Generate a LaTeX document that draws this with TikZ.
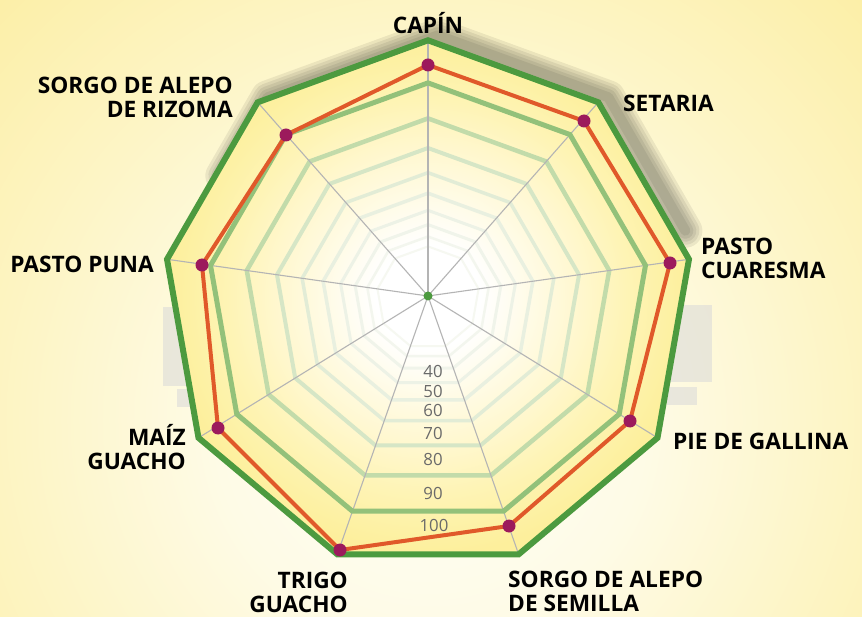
\documentclass[tikz,border=0pt]{standalone}
\usepackage{fontspec}
\setmainfont{Open Sans}
\usetikzlibrary{calc}
\definecolor{bgA}{HTML}{FFFEF8}
\definecolor{bgB}{HTML}{FEFBE6}
\definecolor{bgC}{HTML}{FDF5C6}
\definecolor{bgD}{HTML}{FCEFA8}
\definecolor{fA}{HTML}{FFFFFF}
\definecolor{fB}{HTML}{FFFBE5}
\definecolor{fC}{HTML}{FFF7CC}
\definecolor{fD}{HTML}{FEF4B6}
\definecolor{fE}{HTML}{FDF1A4}
\definecolor{fF}{HTML}{FDEF9C}
\definecolor{dkgreen}{HTML}{4C9A3F}
\definecolor{r90}{HTML}{93C17A}
\definecolor{r80}{HTML}{C2DBAA}
\definecolor{r70}{HTML}{D6E6C6}
\definecolor{r60}{HTML}{E2ECD6}
\definecolor{r50}{HTML}{E9F0E0}
\definecolor{r40}{HTML}{EDF2E6}
\definecolor{r30}{HTML}{F0F4EA}
\definecolor{r20}{HTML}{F3F6EE}
\definecolor{r10}{HTML}{F6F8F1}
\definecolor{dataorange}{HTML}{E0592A}
\definecolor{dotpurple}{HTML}{9C1A5C}
\definecolor{spokegray}{HTML}{B4B4B4}
\definecolor{tickgray}{HTML}{6A6A6A}
\definecolor{patchgray}{HTML}{D9D9D9}
\pgfdeclareradialshading{bgshade}{\pgfpoint{0bp}{0bp}}{color(0bp)=(bgA); color(9bp)=(bgB); color(17bp)=(bgC); color(25bp)=(bgD); color(50bp)=(bgD)}
\pgfdeclareradialshading{polyshade}{\pgfpoint{0bp}{0bp}}{color(0bp)=(fA); color(5bp)=(fA); color(10bp)=(fB); color(15bp)=(fC); color(19bp)=(fD); color(23bp)=(fE); color(25bp)=(fF); color(50bp)=(fF)}
\begin{document}
\begin{tikzpicture}[x=1pt,y=-1pt,
  lbl/.style={font=\fontsize{22.7}{24}\selectfont\bfseries, text=black, inner sep=0pt},
  tick/.style={font=\fontsize{16.8}{18}\selectfont, text=tickgray, inner sep=0pt},
  spoke/.style={draw=spokegray, line width=1.1pt},
  datadot/.style={circle, fill=dotpurple, minimum size=13pt, inner sep=0pt},
  shadowline/.style={black, opacity=0.07, line join=round, line cap=round},
  patch/.style={fill=patchgray, opacity=0.55}
]
\useasboundingbox (0,0) rectangle (862,617);
% background
\begin{scope}
\clip (0,0) rectangle (862,617);
\shade[shading=bgshade] (-170,-180) rectangle (1030,1020);
\end{scope}
% coordinates
\coordinate (c) at (428,296);
\foreach \k in {0,...,8}{
  \coordinate (o\k) at ({428+265*cos(-90+40*\k)},{305.3+265*sin(-90+40*\k)});
}
\coordinate (d0) at (428,65);
\coordinate (d1) at (584,121);
\coordinate (d2) at (670,263);
\coordinate (d3) at (630,421);
\coordinate (d4) at (509,526);
\coordinate (d5) at (340,550);
\coordinate (d6) at (218,428);
\coordinate (d7) at (202,265);
\coordinate (d8) at (286,135);
% background patches
\fill[patch] (163,307) rectangle (192,386);
\fill[patch] (177,389) rectangle (192,407);
\fill[patch] (667,305) rectangle (712,382);
\fill[patch] (667,387) rectangle (697,405);
% shadow
\foreach \w in {34,28,22,16,10}{
  \draw[shadowline, line width=\w pt]
    ([shift={(10,-5)}]$(o7)!0.5!(o8)$) -- ([shift={(10,-5)}]o8) -- ([shift={(10,-5)}]o0)
    -- ([shift={(10,-5)}]o1) -- ([shift={(10,-5)}]$(o1)!0.85!(o2)$);
}
% polygon fill
\shade[shading=polyshade] (o0) -- (o1) -- (o2) -- (o3) -- (o4) -- (o5) -- (o6) -- (o7) -- (o8) -- cycle;
% inner rings
\foreach \v/\col/\w in {10/r10/2,20/r20/2.5,30/r30/3,40/r40/3,50/r50/3.5,60/r60/3.5,70/r70/4,80/r80/4.5}{
  \pgfmathsetmacro{\R}{265/(1.2^((100-\v)/10))}
  \pgfmathsetmacro{\cy}{296+0.035*\R}
  \draw[draw=\col, line width=\w pt, line join=miter]
    ({428},{\cy-\R}) \foreach \k in {1,...,8}{ -- ({428+\R*cos(-90+40*\k)},{\cy+\R*sin(-90+40*\k)}) } -- cycle;
}
% spokes
\foreach \k in {0,...,8}{ \draw[spoke] (c) -- (o\k); }
% ring 90
\pgfmathsetmacro{\R}{265/1.2}
\pgfmathsetmacro{\cy}{296+0.035*\R}
\draw[draw=r90, line width=5pt, line join=miter]
  ({428},{\cy-\R}) \foreach \k in {1,...,8}{ -- ({428+\R*cos(-90+40*\k)},{\cy+\R*sin(-90+40*\k)}) } -- cycle;
% outer ring
\draw[draw=dkgreen, line width=6pt, line join=miter] (o0) -- (o1) -- (o2) -- (o3) -- (o4) -- (o5) -- (o6) -- (o7) -- (o8) -- cycle;
% data
\draw[draw=dataorange, line width=4pt, line join=round] (d0) -- (d1) -- (d2) -- (d3) -- (d4) -- (d5) -- (d6) -- (d7) -- (d8) -- cycle;
\foreach \k in {0,...,8}{ \node[datadot] (dot\k) at (d\k) {}; }
\node[circle, fill=dkgreen, minimum size=9pt, inner sep=0pt] (cdot) at (c) {};
% tick labels
\node[tick] (t40) at (433,371) {40};
\node[tick] (t50) at (433,391) {50};
\node[tick] (t60) at (433,410) {60};
\node[tick] (t70) at (433,433) {70};
\node[tick] (t80) at (433,459) {80};
\node[tick] (t90) at (433,493) {90};
\node[tick] (t100) at (434,525) {100};
% category labels
\node[lbl] (capin) at (428,23) {CAPÍN};
\node[lbl, anchor=east, align=right] (rizoma) at (233,97.5) {SORGO DE ALEPO\\DE RIZOMA};
\node[lbl, anchor=west] (setaria) at (623,103) {SETARIA};
\node[lbl, anchor=west, align=left] (cuaresma) at (701,258) {PASTO\\CUARESMA};
\node[lbl, anchor=east] (puna) at (154,264) {PASTO PUNA};
\node[lbl, anchor=west] (pie) at (673,441) {PIE DE GALLINA};
\node[lbl, anchor=east, align=right] (maiz) at (186,447) {MAÍZ\\GUACHO};
\node[lbl, anchor=east, align=right] (trigo) at (348,592) {TRIGO\\GUACHO};
\node[lbl, anchor=west, align=left] (semilla) at (508,591) {SORGO DE ALEPO\\DE SEMILLA};
\end{tikzpicture}
\end{document}
